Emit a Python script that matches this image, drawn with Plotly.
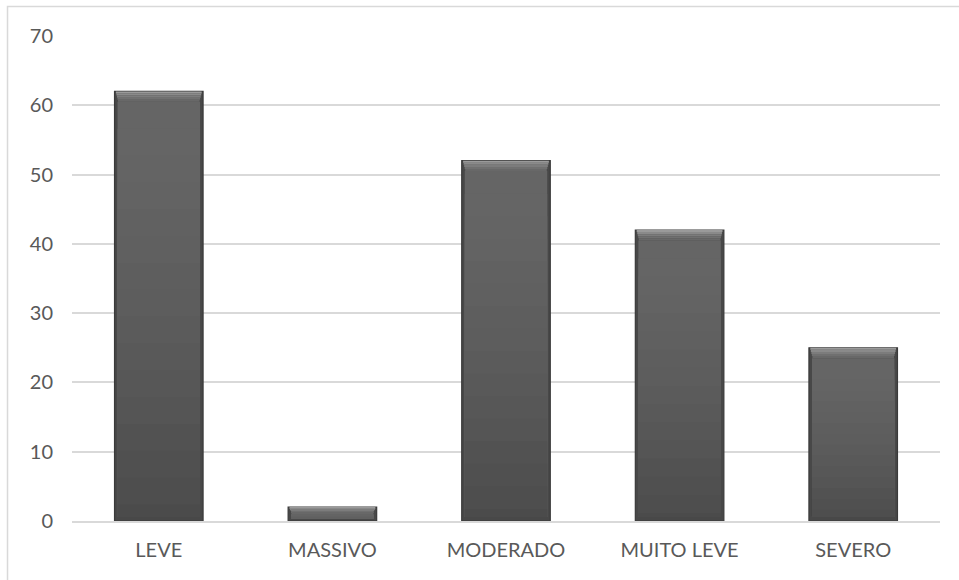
import plotly.graph_objects as go

categories = ["LEVE", "MASSIVO", "MODERADO", "MUITO LEVE", "SEVERO"]
values = [62, 2, 52, 42, 25]
y_ticks = [0, 10, 20, 30, 40, 50, 60, 70]

BAR_WIDTH = 0.51
BEVEL = 1.5  # height of the top bevel, in data units


def mix(c1, c2, t):
    a = [int(c1[k:k + 2], 16) for k in (1, 3, 5)]
    b = [int(c2[k:k + 2], 16) for k in (1, 3, 5)]
    return "#" + "".join(f"{round(x + (y - x) * t):02x}" for x, y in zip(a, b))


def bevel_h(v):
    return min(BEVEL, v * 0.45)


fig = go.Figure()

# outer bar with a dark rim
fig.add_trace(go.Bar(
    x=categories, y=values, width=BAR_WIDTH,
    marker=dict(color="#484848", line=dict(color="#3a3a3a", width=1.2)),
    hoverinfo="x+y", showlegend=False,
))

# vertical shading: full-height layer is the lightest, shorter layers
# drawn over it get darker so the bottom of each bar ends up darkest
n = 16
for i in range(n):
    frac = 1 - i / n
    col = mix("#656565", "#4b4b4b", (i / (n - 1)) ** 1.5)
    fig.add_trace(go.Bar(
        x=categories,
        y=[max(v * frac - bevel_h(v) * 1.4, 0) for v in values],
        base=[bevel_h(v) * 0.4 for v in values],
        width=BAR_WIDTH - 0.035,
        marker=dict(color=col, line=dict(width=0)),
        hoverinfo="skip", showlegend=False,
    ))

# top bevel highlight, graded from light at the edge to the body tone
bevel_cols = ["#9a9a9a", "#8a8a8a", "#7c7c7c", "#707070", "#686868"]
m = len(bevel_cols)
for j, col in enumerate(bevel_cols):
    fig.add_trace(go.Bar(
        x=categories,
        y=[bevel_h(v) / m for v in values],
        base=[v - bevel_h(v) * (j + 1) / m for v in values],
        width=BAR_WIDTH - 0.016 - 0.006 * j,
        marker=dict(color=col, line=dict(width=0)),
        hoverinfo="skip", showlegend=False,
    ))

fig.update_layout(
    width=959, height=580,
    margin=dict(l=72, r=19, t=36, b=59),
    barmode="overlay",
    plot_bgcolor="white", paper_bgcolor="white",
    font=dict(family="Lato, Open Sans, sans-serif", size=20, color="#595959"),
    shapes=[dict(
        type="rect", xref="paper", yref="paper",
        x0=-0.0743, x1=1.2, y0=-0.3, y1=1.0608,
        line=dict(color="#d9d9d9", width=1.5), fillcolor="rgba(0,0,0,0)",
        layer="below",
    )],
)

fig.update_xaxes(
    showgrid=False, showline=True, linecolor="#d9d9d9", linewidth=1.5,
    ticks="", ticklabelstandoff=10,
)
fig.update_yaxes(
    range=[0, 70], tickvals=y_ticks, showgrid=True, gridcolor="#d9d9d9",
    gridwidth=1.5, zeroline=False, showline=False, ticks="",
    ticklabelstandoff=18,
)

fig.write_html("out.html")
